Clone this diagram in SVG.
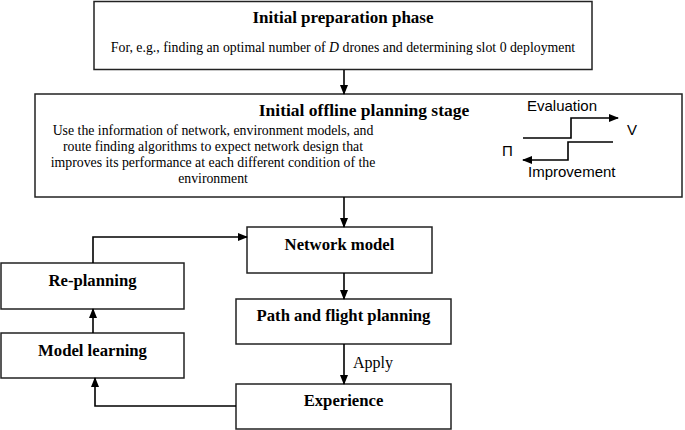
<svg xmlns="http://www.w3.org/2000/svg" width="685" height="430" viewBox="0 0 685 430">
<style>
.box{fill:#fff;stroke:#222;stroke-width:1.5}
.t{font-family:"Liberation Serif","Times New Roman",serif;fill:#000}
.b{font-weight:bold;font-size:16.7px;text-anchor:middle}
.r{font-size:13.8px;text-anchor:middle}
.s{font-family:"Liberation Sans",Arial,sans-serif;font-size:15px;fill:#000}
.ln{fill:none;stroke:#000;stroke-width:1.6}
</style>
<defs>
<marker id="ah" markerWidth="10" markerHeight="8" refX="9" refY="4" orient="auto" markerUnits="userSpaceOnUse">
<path d="M0,0 L10,4 L0,8 Z" fill="#000"/>
</marker>
</defs>
<rect width="685" height="430" fill="#fff"/>
<g id="prep">
<rect class="box" x="94" y="1.5" width="498" height="68"/>
<text class="t b" x="343" y="23" style="font-size:17px">Initial preparation phase</text>
<text class="t r" x="343" y="52">For, e.g.,  finding an optimal number of <tspan font-style="italic">D</tspan> drones and determining slot 0 deployment</text>
</g>
<g id="offline">
<rect class="box" x="35" y="94" width="647" height="103"/>
<text class="t b" x="364" y="116" style="font-size:17.5px">Initial offline planning stage</text>
<text class="t r" x="213" y="135">Use the information of network, environment models, and</text>
<text class="t r" x="213" y="151">route finding algorithms to expect network design that</text>
<text class="t r" x="213" y="167">improves its performance at each different condition of the</text>
<text class="t r" x="213" y="183">environment</text>
<text class="s" x="527" y="111">Evaluation</text>
<text class="s" x="627" y="135">V</text>
<text class="s" x="502" y="156">Π</text>
<text class="s" x="528" y="177">Improvement</text>
<polyline class="ln" points="523,138 571,138 571,118 618,118" marker-end="url(#ah)"/>
<polyline class="ln" points="613,142 568,142 568,160 523,160" marker-end="url(#ah)"/>
</g>
<g id="network">
<rect class="box" x="247" y="227" width="185" height="46"/>
<text class="t b" x="339.5" y="250">Network model</text>
</g>
<g id="path">
<rect class="box" x="236" y="299" width="215" height="45"/>
<text class="t b" x="343.5" y="321">Path and flight planning</text>
</g>
<g id="experience">
<rect class="box" x="236" y="384" width="215" height="45"/>
<text class="t b" x="343.5" y="406">Experience</text>
</g>
<g id="replanning">
<rect class="box" x="1" y="263" width="183" height="46"/>
<text class="t b" x="92.5" y="286">Re-planning</text>
</g>
<g id="modellearning">
<rect class="box" x="1" y="333" width="183" height="45"/>
<text class="t b" x="92.5" y="356">Model learning</text>
</g>
<g id="connectors">
<line class="ln" x1="344" y1="70" x2="344" y2="94" marker-end="url(#ah)"/>
<line class="ln" x1="344" y1="197" x2="344" y2="227" marker-end="url(#ah)"/>
<line class="ln" x1="344" y1="273" x2="344" y2="299" marker-end="url(#ah)"/>
<line class="ln" x1="344" y1="344" x2="344" y2="384" marker-end="url(#ah)"/>
<text class="t" x="353" y="368" style="font-size:16px">Apply</text>
<polyline class="ln" points="236,406 95,406 95,378" marker-end="url(#ah)"/>
<line class="ln" x1="93" y1="333" x2="93" y2="309" marker-end="url(#ah)"/>
<polyline class="ln" points="93,263 93,237 247,237" marker-end="url(#ah)"/>
</g>
</svg>
